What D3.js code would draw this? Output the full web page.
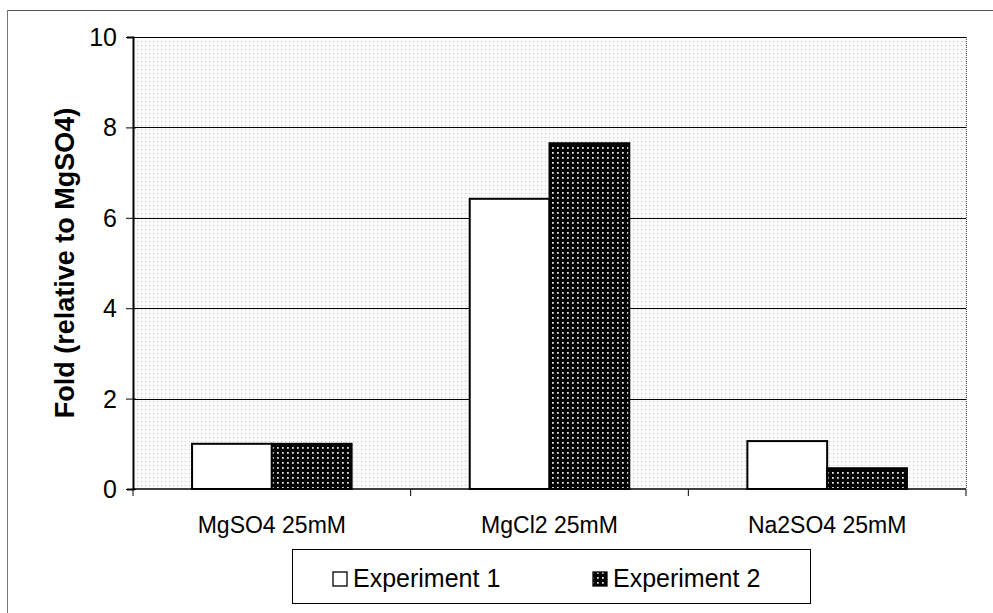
<!DOCTYPE html>
<html><head><meta charset="utf-8">
<script src="https://cdn.jsdelivr.net/npm/d3@7"></script>
<style>body{margin:0;background:#fff}svg{display:block}</style>
</head><body>
<svg id="c" width="993" height="613"></svg>
<script>
const categories = ["MgSO4 25mM", "MgCl2 25mM", "Na2SO4 25mM"];
const seriesNames = ["Experiment 1", "Experiment 2"];
const exp1 = [1.0, 6.42, 1.06];
const exp2 = [1.0, 7.65, 0.46];
const yTicks = [0, 2, 4, 6, 8, 10];

const FONT = "Liberation Sans, Arial, sans-serif";
const svg = d3.select("#c");
const m = {l:133, r:966, t:37, b:489};
const defs = svg.append("defs");
const bg = defs.append("pattern").attr("id","bg").attr("width",4).attr("height",4).attr("patternUnits","userSpaceOnUse");
bg.append("rect").attr("width",4).attr("height",4).attr("fill","#fbfbfb");
bg.append("rect").attr("x",1).attr("y",1).attr("width",1).attr("height",1).attr("fill","#c4c4c4");
const dk = defs.append("pattern").attr("id","dk").attr("width",5).attr("height",5).attr("patternUnits","userSpaceOnUse");
dk.append("rect").attr("width",5).attr("height",5).attr("fill","#000");
dk.append("rect").attr("x",2).attr("y",2).attr("width",1.8).attr("height",1.8).attr("fill","#e0e0e0");

const x = d3.scaleBand().domain(categories).range([m.l, m.r]);
const xs = d3.scaleBand().domain(seriesNames).range([0, x.bandwidth()]).paddingInner(0).paddingOuter(0.74);
const y = d3.scaleLinear().domain([0,10]).range([m.b, m.t]);

// outer frame
svg.append("line").attr("x1",7).attr("x2",993).attr("y1",10.5).attr("y2",10.5).attr("stroke","#555");
svg.append("line").attr("x1",7.5).attr("x2",7.5).attr("y1",10).attr("y2",613).attr("stroke","#777");

svg.append("rect").attr("x",m.l).attr("y",m.t).attr("width",m.r-m.l).attr("height",m.b-m.t).attr("fill","url(#bg)");

// gridlines
svg.append("g").selectAll("line").data(yTicks.filter(d=>d>0)).join("line")
  .attr("x1",m.l).attr("x2",m.r).attr("y1",d=>Math.round(y(d))+0.5).attr("y2",d=>Math.round(y(d))+0.5)
  .attr("stroke","#000").attr("stroke-width",1);
svg.append("line").attr("x1",m.r+0.5).attr("x2",m.r+0.5).attr("y1",m.t).attr("y2",m.b).attr("stroke","#444").attr("stroke-dasharray","1,1");

// bars
const data = categories.map((c,i)=>({c, v:[exp1[i], exp2[i]]}));
const g = svg.append("g");
data.forEach(d=>{
  seriesNames.forEach((s,j)=>{
    g.append("rect")
     .attr("x", x(d.c)+xs(s)).attr("y", y(d.v[j]))
     .attr("width", xs.bandwidth()).attr("height", y(0)-y(d.v[j]))
     .attr("fill", j===0 ? "#fff" : "url(#dk)")
     .attr("stroke","#000").attr("stroke-width",2);
  });
});

// y axis
const ya = d3.axisLeft(y).tickValues(yTicks).tickSize(6).tickPadding(10).tickFormat(d3.format("d"));
const yg = svg.append("g").attr("transform",`translate(${m.l},0)`).call(ya);
yg.select(".domain").attr("stroke","#000").attr("stroke-width",2);
yg.selectAll(".tick line").attr("x2",-7).attr("x1",3);
yg.selectAll("text").attr("font-family",FONT).attr("font-size",25).attr("fill","#000").attr("dy","0.34em");

// x axis
const xa = svg.append("g").attr("transform",`translate(0,${m.b})`);
xa.append("line").attr("x1",m.l).attr("x2",m.r).attr("y1",0).attr("y2",0).attr("stroke","#000").attr("stroke-width",1.5);
const bounds = [m.l, ...categories.map(c=>x(c)+x.bandwidth())];
xa.selectAll("line.t").data(bounds).join("line").attr("class","t")
  .attr("x1",d=>d).attr("x2",d=>d).attr("y1",0).attr("y2",7).attr("stroke","#000");
xa.selectAll("text").data(categories).join("text")
  .attr("x",d=>x(d)+x.bandwidth()/2).attr("y",44)
  .attr("text-anchor","middle").attr("font-family",FONT).attr("font-size",23)
  .text(d=>d);

// y label
svg.append("text").attr("transform",`translate(74,${(m.t+m.b)/2}) rotate(-90)`)
  .attr("text-anchor","middle").attr("font-family",FONT)
  .attr("font-size",27).attr("font-weight","bold").text("Fold (relative to MgSO4)");

// legend
const lg = svg.append("g");
lg.append("rect").attr("x",292.5).attr("y",549.5).attr("width",518).attr("height",54).attr("fill","#fff").attr("stroke","#000").attr("stroke-width",1);
const lx = [333, 593];
seriesNames.forEach((s,j)=>{
  lg.append("rect").attr("x",lx[j]).attr("y",572).attr("width",14).attr("height",14)
    .attr("fill", j===0?"#fff":"url(#dk)").attr("stroke","#000").attr("stroke-width",1.3);
  lg.append("text").attr("x",lx[j]+20).attr("y",587).attr("font-family",FONT)
    .attr("font-size",25).text(s);
});
</script>
</body></html>
